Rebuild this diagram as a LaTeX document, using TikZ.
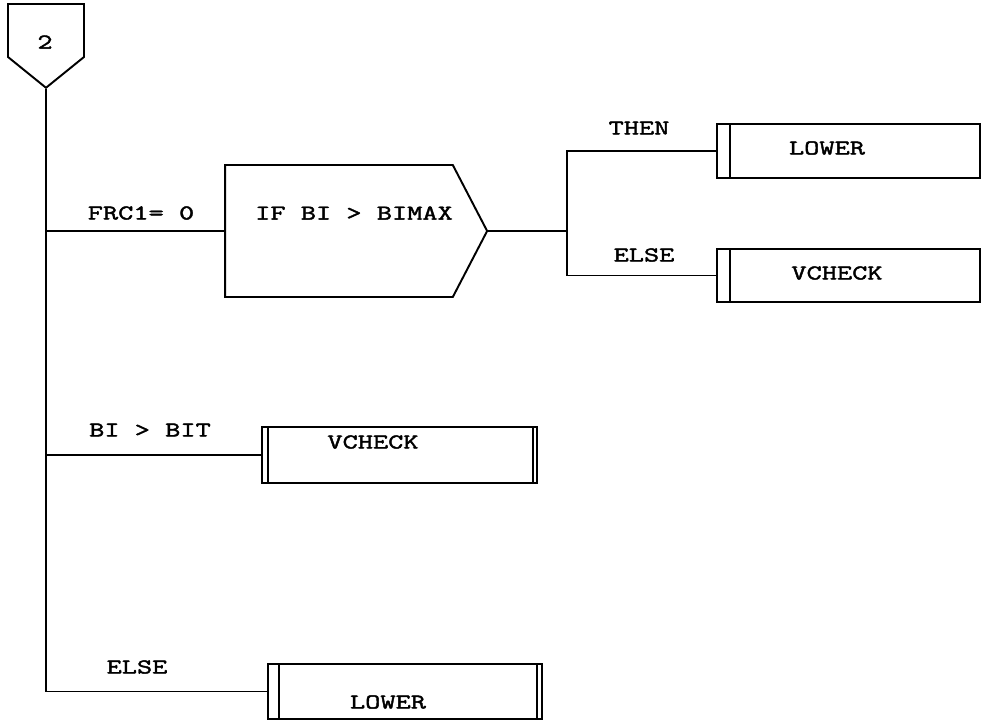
\documentclass[tikz,border=0pt]{standalone}
\usepackage{fontspec}
\usepackage{tikz}
\usetikzlibrary{positioning,calc,shapes.symbols}
\newfontfamily\typerfont[FakeStretch=1.4,FakeBold=2]{Latin Modern Mono}
\newcommand\typer{\typerfont\fontsize{12}{14}\selectfont}

\tikzset{
  proc/.style={draw,inner sep=0pt,minimum width=#1},
  lbar/.style={append after command={([xshift=#1]\tikzlastnode.north west) edge ([xshift=#1]\tikzlastnode.south west)}},
  rbar/.style={append after command={([xshift=-#1]\tikzlastnode.north east) edge ([xshift=-#1]\tikzlastnode.south east)}},
  txt/.style={inner sep=0pt}
}

\begin{document}
\begin{tikzpicture}[x=0.02cm,y=-0.02cm,line width=1.1pt,font=\typer]
\useasboundingbox (0,0) rectangle (985,721);
% off-page connector and test
\node[draw,signal,signal to=south,signal pointer angle=102,minimum width=1.52cm,minimum height=1.06cm,inner sep=0pt] (c2) at (46,30.5) {};
\node[txt] (n2) at (45,42) {2};
\node[draw,signal,signal to=east,signal pointer angle=125,minimum width=5.24cm,minimum height=2.64cm,inner sep=0pt] (test) at (339,231) {};
\node[txt] (testtxt) at (354,213) {IF BI > BIMAX};
\node[txt] (frc) at (141,213) {FRC1= 0};
% THEN / ELSE of the test
\coordinate (fork) at ($(test.east)+(79,0)$);
\node[proc=5.26cm,minimum height=1.08cm,lbar=0.28cm] (lowA) at (848.5,151) {};
\node[txt] (lowAtxt) at (827,148) {LOWER};
\node[proc=5.26cm,minimum height=1.06cm,lbar=0.28cm] (vchkA) at (848.5,275.5) {};
\node[txt] (vchkAtxt) at (837,273) {VCHECK};
\node[txt] (then) at (639,128) {THEN};
\node[txt] (elseA) at (644,255) {ELSE};
% other cases
\node[proc=5.5cm,minimum height=1.12cm,lbar=0.14cm,rbar=0.1cm] (vchkB) at (399.5,455) {};
\node[txt] (vchkBtxt) at (373,442) {VCHECK};
\node[txt] (bit) at (150,430) {BI > BIT};
\node[proc=5.48cm,minimum height=1.1cm,lbar=0.24cm,rbar=0.12cm] (lowB) at (405,691.5) {};
\node[txt] (lowBtxt) at (388,702) {LOWER};
\node[txt] (elseB) at (137,667) {ELSE};
% connectors
\draw (c2.south) -- (c2.south |- lowB.west) -- (lowB.west);
\draw (test.west) -- (test.west -| c2.south);
\draw (vchkB.west) -- (vchkB.west -| c2.south);
\draw (test.east) -- (fork);
\draw (lowA.west) -| (fork) |- (vchkA.west);
\end{tikzpicture}
\end{document}
